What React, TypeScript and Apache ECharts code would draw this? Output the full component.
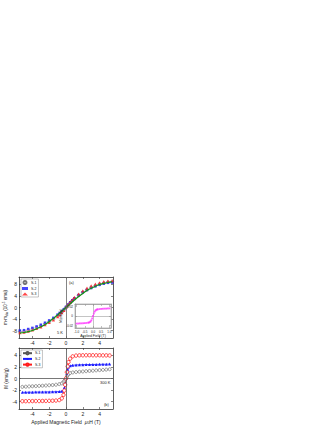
import React, { useEffect, useRef } from "react";
import * as echarts from "echarts";

// ---------- data ----------
const seriesLabels = ["S-1", "S-2", "S-3"];

// panel (a): 5 K
const topField = [-5.5, -5, -4.5, -4, -3.5, -3, -2.5, -2, -1.5, -1, -0.75, -0.5, -0.25, 0, 0.25, 0.5, 0.75, 1, 1.5, 2, 2.5, 3, 3.5, 4, 4.5, 5, 5.5];
const topS1 = [-8.4, -8.3, -7.9, -7.5, -7.0, -6.4, -5.7, -4.9, -4.0, -2.9, -2.3, -1.6, -0.8, 0, 0.8, 1.6, 2.3, 3.0, 4.2, 5.3, 6.2, 7.0, 7.6, 8.1, 8.5, 8.8, 9.0];
const topS2 = [-8.0, -7.9, -7.5, -7.1, -6.6, -6.0, -5.3, -4.5, -3.6, -2.5, -1.9, -1.3, -0.6, 0.2, 1.0, 1.8, 2.5, 3.2, 4.3, 5.3, 6.1, 6.8, 7.4, 7.9, 8.3, 8.6, 8.7];
const topS3 = [-8.7, -8.6, -8.2, -7.8, -7.3, -6.7, -6.0, -5.2, -4.3, -3.2, -2.6, -1.8, -1.0, 0.1, 1.0, 1.9, 2.7, 3.5, 4.7, 5.8, 6.7, 7.5, 8.1, 8.6, 9.0, 9.2, 9.3];
const fitField = [-5.5, -5, -4.5, -4, -3.5, -3, -2.5, -2, -1.5, -1, -0.5, 0, 0.5, 1, 1.5, 2, 2.5, 3, 3.5, 4, 4.5, 5, 5.5];
const fitValues = [-8.9, -8.7, -8.4, -8.0, -7.4, -6.7, -5.9, -4.9, -3.8, -2.6, -1.3, 0, 1.3, 2.6, 3.8, 4.9, 5.9, 6.7, 7.4, 8.0, 8.4, 8.7, 8.9];

// panel (b): 300 K
const botField = [-5.2, -4.8, -4.4, -4, -3.6, -3.2, -2.8, -2.4, -2, -1.6, -1.2, -0.8, -0.5, -0.3, -0.2, -0.1, 0, 0.1, 0.2, 0.3, 0.5, 0.8, 1.2, 1.6, 2, 2.4, 2.8, 3.2, 3.6, 4, 4.4, 4.8, 5.2];
const botS1 = [-1.45, -1.42, -1.38, -1.35, -1.32, -1.28, -1.25, -1.22, -1.18, -1.14, -1.08, -0.98, -0.85, -0.62, -0.42, -0.2, 0, 0.3, 0.55, 0.75, 0.95, 1.05, 1.12, 1.18, 1.22, 1.27, 1.32, 1.36, 1.41, 1.45, 1.5, 1.55, 1.6];
const botS2 = [-2.4, -2.4, -2.38, -2.38, -2.36, -2.36, -2.35, -2.34, -2.33, -2.32, -2.3, -2.27, -2.2, -2.0, -1.6, -0.9, 0, 0.9, 1.6, 2.0, 2.2, 2.3, 2.35, 2.38, 2.4, 2.42, 2.43, 2.44, 2.45, 2.46, 2.47, 2.48, 2.5];
const botS3 = [-3.95, -3.95, -3.93, -3.93, -3.92, -3.92, -3.9, -3.9, -3.88, -3.86, -3.83, -3.75, -3.45, -2.85, -2.1, -1.1, 0, 1.1, 2.1, 2.85, 3.45, 3.85, 3.98, 4.02, 4.03, 4.04, 4.04, 4.04, 4.03, 4.03, 4.02, 4.02, 4.0];

// inset
const insetField = [-1, -0.9, -0.8, -0.7, -0.6, -0.5, -0.4, -0.3, -0.25, -0.2, -0.15, -0.1, -0.05, 0, 0.05, 0.1, 0.15, 0.2, 0.25, 0.3, 0.4, 0.5, 0.6, 0.7, 0.8, 0.9, 1];
const insetValues = [-0.0158, -0.0157, -0.0155, -0.0153, -0.0151, -0.0148, -0.0145, -0.014, -0.0136, -0.0128, -0.0114, -0.009, -0.005, 0, 0.005, 0.009, 0.0114, 0.0128, 0.0136, 0.014, 0.0145, 0.0148, 0.0151, 0.0153, 0.0155, 0.0157, 0.0158];

// ticks
const fieldTicks = [-4, -2, 0, 2, 4];
const topYTicks = [-8, -4, 0, 4, 8];
const botYTicks = [-4, -2, 0, 2, 4];
const insetXTicks = [-1, -0.5, 0, 0.5, 1];
const insetYTicks = [-0.02, 0, 0.02];

const FONT = "Liberation Sans, Arial, sans-serif";
const zip = (xs: number[], ys: number[]) => xs.map((x, i) => [x, ys[i]]);

function axis(
  gridIndex: number,
  position: string,
  min: number,
  max: number,
  ticks: number[],
  showLabel: boolean,
  fontSize = 5,
  fmt?: (v: number) => string,
  lineColor = "#333"
): any {
  return {
    type: "value",
    gridIndex,
    position,
    min,
    max,
    axisLine: { show: true, onZero: false, lineStyle: { color: lineColor, width: 0.8 } },
    axisTick: { show: true, inside: true, length: 2, customValues: ticks, lineStyle: { color: lineColor, width: 0.6 } },
    axisLabel: {
      show: showLabel,
      customValues: ticks,
      fontSize,
      margin: 2,
      color: "#222",
      fontFamily: FONT,
      formatter: fmt,
    },
    splitLine: { show: false },
  };
}

export default function App() {
  const ref = useRef<HTMLDivElement>(null);
  useEffect(() => {
    if (!ref.current) return;
    const chart = echarts.init(ref.current, undefined, { renderer: "svg" });
    const GRAY = "#555";
    const BLUE = "#1a1aff";
    const RED = "#ff1a1a";
    const GREEN = "#149414";
    const MAG = "#ff33ff";
    const INSET = "#999";
    const legendMap: Record<string, string> = { b1: "S-1", b2: "S-2", b3: "S-3" };

    const option: any = {
      animation: false,
      backgroundColor: "#fff",
      textStyle: { fontFamily: FONT },
      grid: [
        { left: 19, top: 277, width: 94, height: 61, show: false },
        { left: 19, top: 348, width: 94, height: 61, show: false },
        { left: 75, top: 304, width: 36, height: 24, show: true, backgroundColor: "#fff", borderColor: INSET, borderWidth: 0.6, z: 5 },
      ],
      xAxis: [
        axis(0, "bottom", -5.6, 5.6, fieldTicks, true),
        axis(0, "top", -5.6, 5.6, fieldTicks, false),
        {
          ...axis(1, "bottom", -5.6, 5.6, fieldTicks, true),
          name: "Applied Magnetic Field  {i|μ}{s|0}{n|H (T)}",
          nameLocation: "middle",
          nameGap: 9,
          nameTextStyle: {
            fontSize: 5,
            color: "#222",
            fontFamily: FONT,
            rich: {
              i: { fontSize: 5, fontStyle: "italic", fontFamily: FONT, color: "#222" },
              s: { fontSize: 3.5, padding: [3, 0, 0, 0], fontFamily: FONT, color: "#222" },
              n: { fontSize: 5, fontFamily: FONT, color: "#222" },
            },
          },
        },
        axis(1, "top", -5.6, 5.6, fieldTicks, false),
        {
          ...axis(2, "bottom", -1.1, 1.1, insetXTicks, true, 3, (v: number) => v.toFixed(1), INSET),
          name: "Applied Field (T)",
          nameLocation: "middle",
          nameGap: 5,
          nameTextStyle: { fontSize: 3.5, color: "#222", fontFamily: FONT },
          z: 6,
        },
        { ...axis(2, "top", -1.1, 1.1, insetXTicks, false, 3, undefined, INSET), z: 6 },
      ],
      yAxis: [
        {
          ...axis(0, "left", -10.6, 10.6, topYTicks, true),
          name: "{n|m-m}{sub|dia}{n| (10}{sup|-5}{n| emu)}",
          nameLocation: "middle",
          nameGap: 9,
          nameTextStyle: {
            rich: {
              n: { fontSize: 4.5, fontFamily: FONT, color: "#222" },
              sub: { fontSize: 3, padding: [3, 0, 0, 0], fontFamily: FONT, color: "#222" },
              sup: { fontSize: 3, padding: [0, 0, 3, 0], fontFamily: FONT, color: "#222" },
            },
          },
        },
        axis(0, "right", -10.6, 10.6, topYTicks, false),
        {
          ...axis(1, "left", -5.3, 5.3, botYTicks, true),
          name: "M (emu/g)",
          nameLocation: "middle",
          nameGap: 8,
          nameTextStyle: { fontSize: 4.5, color: "#222", fontFamily: FONT },
        },
        axis(1, "right", -5.3, 5.3, botYTicks, false),
        {
          ...axis(2, "left", -0.025, 0.025, insetYTicks, true, 3, (v: number) => (v === 0 ? "0" : v.toFixed(2)), INSET),
          name: "M (emu/g)",
          nameLocation: "middle",
          nameGap: 6,
          nameTextStyle: { fontSize: 3, color: "#222", fontFamily: FONT },
          z: 6,
        },
        { ...axis(2, "right", -0.025, 0.025, insetYTicks, false, 3, undefined, INSET), z: 6 },
      ],
      legend: [
        {
          data: seriesLabels,
          left: 21,
          top: 279,
          orient: "vertical",
          itemWidth: 6,
          itemHeight: 3,
          itemGap: 1.5,
          padding: [1, 2, 1, 1],
          borderColor: "#888",
          borderWidth: 0.5,
          selectedMode: false,
          textStyle: { fontSize: 3.5, color: "#222", fontFamily: FONT, padding: [0, 0, 0, -2] },
        },
        {
          data: ["b1", "b2", "b3"],
          formatter: (n: string) => legendMap[n],
          left: 21,
          top: 350,
          orient: "vertical",
          itemWidth: 9,
          itemHeight: 3,
          itemGap: 1.5,
          padding: [1, 2, 1, 1],
          borderColor: "#888",
          borderWidth: 0.5,
          selectedMode: false,
          textStyle: { fontSize: 3.5, color: "#222", fontFamily: FONT, padding: [0, 0, 0, -2] },
        },
      ],
      graphic: [
        { type: "text", x: 69, y: 280, style: { text: "(a)", fontSize: 4, fill: "#222", fontFamily: FONT } },
        { type: "text", x: 57, y: 330, style: { text: "5 K", fontSize: 4, fill: "#222", fontFamily: FONT } },
        { type: "text", x: 100, y: 380, style: { text: "300 K", fontSize: 4, fill: "#222", fontFamily: FONT } },
        { type: "text", x: 104, y: 402, style: { text: "(b)", fontSize: 4, fill: "#222", fontFamily: FONT } },
      ],
      series: [
        {
          name: "S-1",
          type: "scatter",
          xAxisIndex: 0,
          yAxisIndex: 0,
          data: zip(topField, topS1),
          symbol: "circle",
          symbolSize: 3,
          itemStyle: { color: "rgba(255,255,255,0)", borderColor: GRAY, borderWidth: 0.6 },
          markLine: {
            silent: true,
            symbol: "none",
            label: { show: false },
            lineStyle: { color: "#666", width: 0.8, type: "solid" },
            data: [{ xAxis: 0 }],
          },
        },
        {
          name: "S-2",
          type: "scatter",
          xAxisIndex: 0,
          yAxisIndex: 0,
          data: zip(topField, topS2),
          symbol: "rect",
          symbolSize: 2.6,
          itemStyle: { color: BLUE },
        },
        {
          name: "S-3",
          type: "scatter",
          xAxisIndex: 0,
          yAxisIndex: 0,
          data: zip(topField, topS3),
          symbol: "triangle",
          symbolSize: 3.2,
          itemStyle: { color: RED },
        },
        {
          name: "fit",
          type: "line",
          xAxisIndex: 0,
          yAxisIndex: 0,
          data: zip(fitField, fitValues),
          smooth: true,
          symbol: "none",
          lineStyle: { color: GREEN, width: 1.2 },
          z: 3,
        },
        {
          name: "b1",
          type: "line",
          xAxisIndex: 2,
          yAxisIndex: 2,
          data: zip(botField, botS1),
          symbol: "circle",
          symbolSize: 3,
          itemStyle: { color: "#fff", borderColor: GRAY, borderWidth: 0.6 },
          lineStyle: { color: GRAY, width: 0.5 },
          markLine: {
            silent: true,
            symbol: "none",
            label: { show: false },
            lineStyle: { color: "#555", width: 0.8, type: "solid" },
            data: [{ xAxis: 0 }, { yAxis: 0 }],
          },
        },
        {
          name: "b2",
          type: "line",
          xAxisIndex: 2,
          yAxisIndex: 2,
          data: zip(botField, botS2),
          symbol: "triangle",
          symbolSize: 3,
          itemStyle: { color: BLUE },
          lineStyle: { color: BLUE, width: 0.8 },
        },
        {
          name: "b3",
          type: "line",
          xAxisIndex: 2,
          yAxisIndex: 2,
          data: zip(botField, botS3),
          symbol: "circle",
          symbolSize: 3.4,
          itemStyle: { color: "#fff", borderColor: RED, borderWidth: 0.8 },
          lineStyle: { color: RED, width: 1.2 },
        },
        {
          name: "inset",
          type: "scatter",
          xAxisIndex: 4,
          yAxisIndex: 4,
          data: zip(insetField, insetValues),
          symbol: "rect",
          symbolSize: 1.8,
          itemStyle: { color: MAG },
          z: 8,
          markLine: {
            silent: true,
            symbol: "none",
            label: { show: false },
            lineStyle: { color: "#888", width: 0.5, type: "solid" },
            data: [{ xAxis: 0 }, { yAxis: 0 }],
            z: 7,
          },
        },
      ],
    };
    chart.setOption(option);
    return () => chart.dispose();
  }, []);
  return <div ref={ref} style={{ position: "absolute", left: 0, top: 0, width: 332, height: 430 }} />;
}
